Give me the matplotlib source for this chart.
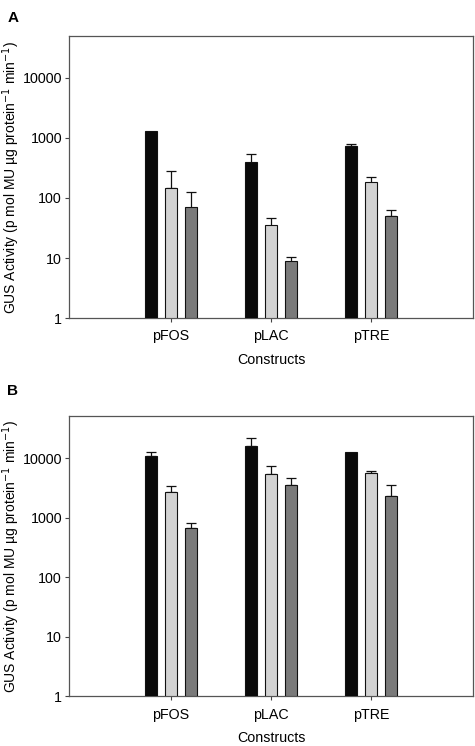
import matplotlib
matplotlib.use("Agg")
import matplotlib.pyplot as plt
import numpy as np

plt.rcParams['font.family'] = ['Liberation Sans', 'DejaVu Sans']

constructs = ["pFOS", "pLAC", "pTRE"]
colors = ["#0a0a0a", "#d2d2d2", "#7a7a7a"]

# panel A: means and upper error (nan = no bar drawn)
a_means = [[1290, 390, 728],
           [147, 34, 181],
           [69, 8, 50]]
a_upper = [[np.nan, 550, 785],
           [279, 46, 228],
           [125, 10.4, 63]]

# panel B
b_means = [[10960, 15700, 12600],
           [2700, 5480, 5690],
           [660, 3480, 2350]]
b_upper = [[12600, 21600, np.nan],
           [3370, 7250, 6200],
           [830, 4650, 3530]]

yticks = [1, 10, 100, 1000, 10000]
ylabel = "GUS Activity (p mol MU \u00b5g protein$^{-1}$ min$^{-1}$)"
fs = 10.3


def draw(ax, means, upper):
    x = np.arange(len(constructs))
    width = 0.12
    offsets = [-0.2, 0.0, 0.2]
    for i in range(3):
        m = np.array(means[i], dtype=float)
        u = np.array(upper[i], dtype=float)
        xs = x + offsets[i]
        ax.bar(xs, m, width=width, bottom=1, color=colors[i],
               edgecolor="#111111", linewidth=0.8, zorder=3)
        ok = ~np.isnan(u)
        err = np.vstack([np.zeros(ok.sum()), u[ok] - m[ok]])
        ax.errorbar(xs[ok], m[ok], yerr=err, fmt="none", ecolor="#111111",
                    elinewidth=0.9, capsize=3.5, capthick=0.9, zorder=2)
    ax.set_yscale("log")
    ax.set_ylim(1, 50000)
    ax.set_xlim(-1.02, 3.02)
    ax.set_yticks(yticks)
    ax.set_yticklabels([str(t) for t in yticks])
    ax.minorticks_off()
    ax.set_xticks(x)
    ax.set_xticklabels(constructs)
    ax.tick_params(axis="both", labelsize=fs, length=3, width=0.8,
                   color="#444444", pad=2)
    ax.tick_params(axis="x", pad=5)
    for s in ax.spines.values():
        s.set_color("#555555")
        s.set_linewidth(0.9)
    ax.set_xlabel("Constructs", fontsize=fs, labelpad=7)
    ax.set_ylabel(ylabel, fontsize=10.0)
    ax.yaxis.set_label_coords(-0.117, 0.5)


fig = plt.figure(figsize=(4.75, 7.46), dpi=100)
ax1 = fig.add_axes([0.1453, 0.5737, 0.8505, 0.378])
ax2 = fig.add_axes([0.1453, 0.0664, 0.8505, 0.3753])
draw(ax1, a_means, a_upper)
draw(ax2, b_means, b_upper)
fig.text(0.015, 0.985, "A", fontsize=11, fontweight="bold", va="top")
fig.text(0.015, 0.485, "B", fontsize=11, fontweight="bold", va="top")
fig.savefig("out.png", dpi=100)
